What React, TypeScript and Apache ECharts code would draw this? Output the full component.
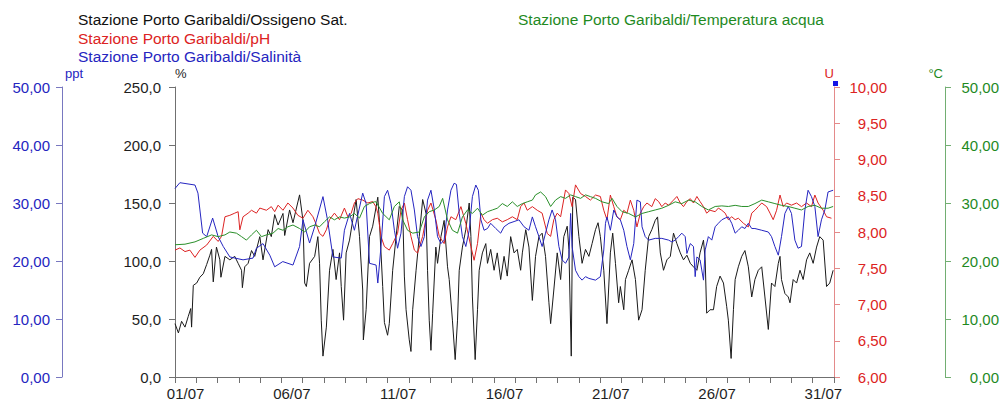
import React, { useEffect, useRef } from 'react';
import * as echarts from 'echarts';

// Tick labels of the day axis (one category per day of July)
const dayLabels = [
  '01/07', '02/07', '03/07', '04/07', '05/07', '06/07', '07/07', '08/07', '09/07', '10/07',
  '11/07', '12/07', '13/07', '14/07', '15/07', '16/07', '17/07', '18/07', '19/07', '20/07',
  '21/07', '22/07', '23/07', '24/07', '25/07', '26/07', '27/07', '28/07', '29/07', '30/07', '31/07',
];

const seriesNames = [
  'Stazione Porto Garibaldi/Ossigeno Sat.',
  'Stazione Porto Garibaldi/pH',
  'Stazione Porto Garibaldi/Salinità',
  'Stazione Porto Garibaldi/Temperatura acqua',
];

// [day since 01/07 00:00, value]
const ossigeno: number[][] = [
  [0, 46], [0.16, 38], [0.31, 48], [0.47, 43], [0.62, 52], [0.74, 59], [0.78, 43], [0.86, 79], [1.02, 81], [1.17, 86],
  [1.33, 89], [1.49, 97], [1.64, 105], [1.72, 110], [1.8, 82], [1.95, 112], [2.11, 101], [2.16, 86], [2.35, 104], [2.58, 101],
  [2.81, 104], [2.97, 98], [3.13, 92], [3.17, 77], [3.28, 95], [3.44, 98], [3.6, 109], [3.75, 104], [3.99, 121], [4.14, 101],
  [4.38, 127], [4.53, 121], [4.69, 140], [4.85, 131], [5.08, 141], [5.16, 122], [5.39, 144], [5.55, 133], [5.86, 157], [6.02, 135],
  [6.1, 81], [6.18, 78], [6.33, 98], [6.57, 104], [6.72, 121], [6.8, 98], [6.88, 49], [6.96, 18], [7.12, 43], [7.27, 92],
  [7.43, 110], [7.58, 84], [7.74, 107], [7.82, 78], [7.93, 49], [8.05, 107], [8.21, 118], [8.36, 135], [8.52, 153], [8.68, 121],
  [8.83, 75], [8.86, 32], [8.99, 58], [9.15, 121], [9.3, 130], [9.54, 155], [9.62, 133], [9.77, 78], [9.85, 47], [10.0, 36],
  [10.08, 46], [10.24, 92], [10.4, 121], [10.55, 147], [10.71, 144], [10.79, 87], [10.87, 58], [11.02, 32], [11.1, 22], [11.18, 58],
  [11.34, 92], [11.49, 121], [11.65, 153], [11.81, 141], [11.88, 92], [11.96, 49], [12.04, 23], [12.12, 55], [12.27, 112], [12.35, 98],
  [12.51, 121], [12.66, 135], [12.82, 95], [12.9, 84], [13.05, 49], [13.18, 15], [13.29, 49], [13.37, 92], [13.52, 112], [13.68, 127],
  [13.84, 150], [13.92, 121], [13.99, 69], [14.12, 15], [14.23, 58], [14.31, 92], [14.46, 107], [14.62, 115], [14.7, 98], [14.85, 110],
  [15.01, 92], [15.16, 107], [15.32, 84], [15.48, 104], [15.63, 87], [15.79, 121], [15.95, 107], [16.1, 110], [16.26, 92], [16.34, 107],
  [16.5, 127], [16.65, 112], [16.81, 66], [16.96, 104], [17.12, 121], [17.27, 124], [17.43, 104], [17.59, 64], [17.67, 46], [17.82, 75],
  [17.98, 107], [18.14, 84], [18.29, 121], [18.45, 130], [18.53, 110], [18.64, 18], [18.71, 155], [18.84, 153], [19.0, 121], [19.15, 98],
  [19.31, 110], [19.47, 104], [19.62, 115], [19.78, 127], [19.9, 133], [20.01, 121], [20.17, 92], [20.32, 46], [20.48, 107], [20.59, 124],
  [20.72, 98], [20.87, 64], [20.95, 78], [21.11, 58], [21.19, 84], [21.34, 92], [21.5, 101], [21.66, 84], [21.81, 49], [21.97, 58],
  [22.12, 92], [22.28, 121], [22.43, 127], [22.59, 135], [22.7, 138], [22.83, 107], [22.98, 92], [23.14, 101], [23.3, 104], [23.45, 124],
  [23.61, 115], [23.77, 107], [23.92, 101], [24.08, 105], [24.24, 98], [24.39, 95], [24.55, 92], [24.7, 107], [24.86, 118], [24.94, 101],
  [25.01, 55], [25.17, 58], [25.33, 58], [25.48, 78], [25.64, 87], [25.8, 81], [25.95, 61], [26.03, 49], [26.16, 16], [26.27, 58],
  [26.35, 84], [26.5, 95], [26.66, 104], [26.81, 109], [26.97, 95], [27.13, 69], [27.28, 84], [27.44, 92], [27.6, 95], [27.75, 69],
  [27.91, 41], [28.06, 81], [28.22, 78], [28.38, 98], [28.46, 104], [28.53, 84], [28.69, 72], [28.85, 69], [28.93, 64], [29.08, 84],
  [29.24, 81], [29.4, 92], [29.55, 84], [29.71, 101], [29.86, 107], [30.02, 98], [30.18, 112], [30.33, 121], [30.49, 118], [30.65, 78],
  [30.8, 81], [30.96, 92],
];

const ph: number[][] = [
  [0, 7.75], [0.23, 7.78], [0.47, 7.73], [0.7, 7.75], [0.94, 7.65], [1.17, 7.75], [1.49, 7.82], [1.8, 7.94], [2.03, 7.87], [2.19, 7.94],
  [2.35, 8.21], [2.58, 8.23], [2.81, 8.26], [2.97, 8.28], [3.05, 8.03], [3.2, 8.21], [3.44, 8.26], [3.6, 8.3], [3.83, 8.26], [3.99, 8.33],
  [4.3, 8.3], [4.53, 8.35], [4.69, 8.28], [4.85, 8.37], [5.08, 8.3], [5.31, 8.4], [5.55, 8.33], [5.78, 8.23], [6.02, 8.19], [6.25, 8.3],
  [6.49, 8.21], [6.65, 8.1], [6.8, 7.98], [6.96, 7.94], [7.12, 8.03], [7.27, 8.17], [7.5, 8.26], [7.74, 8.17], [7.97, 8.33], [8.13, 8.21],
  [8.29, 8.26], [8.44, 8.4], [8.6, 8.46], [8.83, 8.44], [9.07, 8.4], [9.3, 8.42], [9.45, 8.35], [9.54, 8.26], [9.69, 7.94], [9.85, 7.8],
  [10.08, 7.75], [10.24, 7.84], [10.47, 7.98], [10.63, 8.3], [10.79, 8.4], [10.94, 8.17], [11.1, 7.94], [11.26, 7.75], [11.41, 7.71], [11.65, 7.94],
  [11.88, 8.3], [12.04, 8.4], [12.27, 8.17], [12.43, 7.94], [12.66, 7.84], [12.82, 8.07], [12.98, 8.21], [13.21, 8.17], [13.45, 8.35], [13.68, 8.12],
  [13.92, 7.8], [14.07, 7.61], [14.23, 7.84], [14.39, 8.26], [14.54, 8.17], [14.7, 8.12], [14.93, 8.17], [15.16, 8.19], [15.4, 8.14], [15.63, 8.17],
  [15.87, 8.21], [16.1, 8.17], [16.26, 8.35], [16.42, 8.4], [16.57, 8.3], [16.81, 8.35], [17.04, 8.3], [17.27, 8.26], [17.51, 7.98], [17.67, 7.94],
  [17.82, 8.17], [17.98, 8.26], [18.14, 8.21], [18.37, 8.58], [18.53, 8.53], [18.68, 8.35], [18.84, 8.65], [19.08, 8.53], [19.31, 8.49], [19.54, 8.44],
  [19.78, 8.51], [20.01, 8.49], [20.17, 8.3], [20.32, 8.17], [20.48, 8.51], [20.64, 8.35], [20.79, 8.21], [20.95, 8.17], [21.11, 8.3], [21.26, 8.26],
  [21.42, 8.44], [21.58, 8.3], [21.73, 8.07], [21.89, 8.26], [22.05, 8.35], [22.2, 8.4], [22.43, 8.35], [22.59, 8.46], [22.75, 8.42], [22.9, 8.35],
  [23.06, 8.4], [23.22, 8.37], [23.45, 8.44], [23.61, 8.49], [23.77, 8.4], [23.92, 8.35], [24.08, 8.42], [24.24, 8.46], [24.39, 8.4], [24.55, 8.49],
  [24.7, 8.42], [24.86, 8.35], [25.01, 8.26], [25.17, 8.3], [25.41, 8.28], [25.56, 8.33], [25.72, 8.3], [25.88, 8.26], [26.03, 8.17], [26.19, 8.21],
  [26.35, 8.17], [26.5, 8.19], [26.74, 8.12], [26.97, 8.07], [27.13, 8.26], [27.28, 8.3], [27.44, 8.35], [27.6, 8.4], [27.83, 8.35], [27.99, 8.26],
  [28.14, 8.17], [28.3, 8.3], [28.46, 8.51], [28.61, 8.35], [28.77, 8.4], [29.0, 8.37], [29.24, 8.4], [29.47, 8.35], [29.71, 8.4], [29.94, 8.35],
  [30.1, 8.51], [30.25, 8.4], [30.49, 8.3], [30.65, 8.21], [30.88, 8.19],
];

const salinita: number[][] = [
  [0, 32.5], [0.23, 33.5], [0.94, 33.1], [1.08, 31.7], [1.3, 24.8], [1.49, 24.2], [1.77, 27.4], [2.03, 24.2], [2.27, 22.5], [2.58, 20.7],
  [3.2, 20.2], [3.67, 20.5], [3.83, 22.2], [4.14, 23.0], [4.46, 21.0], [4.69, 19.0], [5.07, 19.9], [5.55, 19.3], [5.86, 22.5], [6.02, 27.1],
  [6.33, 23.1], [6.57, 25.9], [6.96, 31.1], [7.18, 27.0], [7.43, 20.7], [7.82, 20.5], [7.97, 25.3], [8.21, 28.2], [8.44, 25.3], [8.83, 31.7],
  [8.99, 29.9], [9.15, 19.6], [9.46, 19.3], [9.54, 16.2], [9.69, 22.5], [9.85, 31.1], [10.0, 32.2], [10.16, 29.9], [10.32, 25.3], [10.47, 22.2],
  [10.63, 24.8], [10.79, 31.1], [10.94, 32.8], [11.1, 32.2], [11.26, 28.8], [11.41, 24.2], [11.57, 22.5], [11.73, 24.2], [11.88, 30.5], [12.04, 32.2],
  [12.2, 28.8], [12.35, 24.2], [12.51, 23.0], [12.66, 23.6], [12.82, 28.8], [12.98, 32.2], [13.13, 33.4], [13.24, 33.2], [13.37, 28.2], [13.52, 24.2],
  [13.68, 22.5], [13.84, 25.3], [13.99, 31.1], [14.15, 33.1], [14.27, 32.2], [14.39, 27.1], [14.54, 25.3], [14.7, 25.6], [14.85, 26.5], [15.09, 25.6],
  [15.32, 24.8], [15.48, 25.9], [15.71, 26.5], [15.95, 26.8], [16.18, 27.1], [16.42, 25.9], [16.65, 25.3], [16.81, 27.6], [16.96, 25.9], [17.12, 24.2],
  [17.27, 22.5], [17.43, 24.8], [17.59, 27.1], [17.74, 28.8], [17.9, 27.1], [18.06, 22.5], [18.21, 20.2], [18.37, 19.6], [18.53, 20.7], [18.61, 28.2],
  [18.68, 22.5], [18.84, 18.4], [19.0, 17.3], [19.15, 16.7], [19.31, 17.3], [19.47, 17.0], [19.78, 16.7], [20.01, 17.3], [20.17, 21.9], [20.25, 26.5],
  [20.32, 27.6], [20.48, 25.3], [20.64, 28.8], [20.79, 27.6], [20.95, 27.1], [21.11, 25.3], [21.26, 22.5], [21.42, 20.2], [21.58, 23.0], [21.73, 30.5],
  [21.89, 30.2], [21.97, 25.9], [22.12, 24.2], [22.28, 23.6], [22.59, 23.9], [22.9, 23.9], [23.22, 23.6], [23.37, 23.3], [23.53, 23.6], [23.69, 24.2],
  [23.84, 24.8], [24.0, 24.2], [24.08, 21.3], [24.24, 23.0], [24.39, 22.5], [24.47, 17.3], [24.55, 20.7], [24.7, 20.2], [24.86, 16.7], [24.94, 21.9],
  [25.09, 24.2], [25.25, 23.6], [25.41, 25.9], [25.56, 26.5], [25.72, 27.1], [25.88, 27.4], [26.03, 27.6], [26.19, 26.5], [26.35, 24.8], [26.5, 25.3],
  [26.66, 25.9], [26.81, 25.6], [26.97, 26.5], [27.13, 25.6], [27.28, 25.6], [27.6, 25.3], [27.91, 25.0], [28.06, 24.2], [28.22, 22.5], [28.38, 21.0],
  [28.53, 24.2], [28.69, 28.2], [28.85, 29.4], [29.0, 28.2], [29.16, 23.6], [29.31, 22.2], [29.47, 22.5], [29.63, 28.8], [29.78, 32.2], [29.94, 31.1],
  [30.1, 29.4], [30.25, 24.2], [30.41, 27.1], [30.57, 28.8], [30.72, 31.9], [30.96, 32.2],
];

const temperatura: number[][] = [
  [0, 22.8], [0.47, 22.9], [0.94, 23.3], [1.33, 23.9], [1.72, 24.5], [2.03, 24.2], [2.35, 24.5], [2.58, 25.0], [2.89, 24.8], [3.13, 24.2],
  [3.36, 23.6], [3.6, 24.5], [3.83, 25.3], [4.07, 24.2], [4.3, 24.5], [4.61, 24.8], [4.85, 25.6], [5.08, 25.3], [5.31, 25.9], [5.55, 26.2],
  [5.86, 25.6], [6.1, 25.0], [6.33, 25.9], [6.57, 26.2], [6.8, 25.9], [7.04, 26.8], [7.27, 27.6], [7.5, 27.1], [7.74, 27.6], [7.97, 27.4],
  [8.21, 27.6], [8.44, 28.2], [8.68, 27.4], [8.91, 29.4], [9.15, 29.9], [9.38, 30.2], [9.46, 30.2], [9.77, 28.2], [10.08, 27.1], [10.32, 29.4],
  [10.55, 30.2], [10.71, 27.1], [10.94, 25.3], [11.18, 24.8], [11.49, 25.0], [11.73, 27.6], [11.96, 28.5], [12.2, 28.8], [12.43, 29.4], [12.59, 30.8],
  [12.82, 27.1], [13.05, 25.3], [13.29, 24.8], [13.52, 27.6], [13.76, 28.8], [13.99, 28.2], [14.23, 29.1], [14.46, 27.9], [14.7, 28.5], [14.93, 28.8],
  [15.16, 29.1], [15.4, 29.9], [15.63, 29.4], [15.87, 30.2], [16.1, 29.4], [16.34, 29.9], [16.57, 30.2], [16.81, 30.5], [16.96, 31.4], [17.2, 31.9],
  [17.43, 31.1], [17.67, 29.4], [17.9, 30.5], [18.14, 31.1], [18.37, 30.8], [18.61, 31.4], [18.84, 31.1], [19.08, 30.8], [19.31, 31.4], [19.54, 31.1],
  [19.78, 30.8], [20.09, 30.2], [20.4, 29.9], [20.56, 30.8], [20.79, 29.4], [21.03, 28.5], [21.34, 28.2], [21.66, 27.6], [21.97, 28.2], [22.28, 28.5],
  [22.59, 28.8], [22.9, 29.1], [23.22, 29.6], [23.53, 30.2], [23.84, 29.9], [24.16, 30.5], [24.47, 30.2], [24.78, 29.4], [25.09, 28.8], [25.41, 29.4],
  [25.72, 29.5], [26.03, 29.4], [26.35, 29.6], [26.66, 29.4], [26.97, 29.4], [27.28, 29.9], [27.6, 30.5], [27.91, 30.2], [28.22, 29.9], [28.53, 29.6],
  [28.85, 29.4], [29.16, 29.1], [29.47, 28.8], [29.78, 29.4], [30.1, 29.6], [30.41, 29.1], [30.72, 29.1], [30.96, 29.4],
];

const FONT = '"Liberation Sans", Arial, sans-serif';
const C_BLACK = '#1e1e1e';
const C_RED = '#dc2323';
const C_BLUE = '#2525c0';
const C_GREEN = '#1f8a1f';

const fmt = (d: number) => (v: number) => v.toFixed(d).replace('.', ',');

function yAxisDef(opts: any) {
  const { name, min, max, interval, position, offset, textColor, lineColor, decimals, nameAlign, namePad, labelAlign, labelMargin } = opts;
  return {
    type: 'value',
    position,
    offset,
    min,
    max,
    interval,
    name,
    nameLocation: 'end',
    nameGap: 7,
    nameTextStyle: { color: textColor, fontSize: 13, fontFamily: FONT, align: nameAlign, padding: namePad },
    axisLine: { show: true, onZero: false, lineStyle: { color: lineColor, width: 1 } },
    axisTick: { show: true, length: 6, lineStyle: { color: lineColor, width: 1 } },
    axisLabel: {
      show: true,
      color: textColor,
      fontSize: 15,
      fontFamily: FONT,
      margin: labelMargin,
      align: labelAlign,
      formatter: fmt(decimals),
    },
    splitLine: { show: false },
  };
}

export default function App() {
  const ref = useRef<HTMLDivElement>(null);

  useEffect(() => {
    if (!ref.current) return;
    const chart = echarts.init(ref.current, undefined, { renderer: 'svg' });
    const line = (name: string, data: number[][], color: string, yAxisIndex: number) => ({
      name,
      type: 'line',
      xAxisIndex: 1,
      yAxisIndex,
      data,
      showSymbol: false,
      symbol: 'none',
      lineStyle: { color, width: 1 },
      itemStyle: { color },
      z: 2,
    });
    chart.setOption({
      animation: false,
      backgroundColor: '#ffffff',
      textStyle: { fontFamily: FONT },
      grid: { left: 175, right: 166, top: 87, bottom: 26, containLabel: false },
      xAxis: [
        {
          type: 'category',
          data: dayLabels,
          boundaryGap: true,
          axisLine: { show: true, lineStyle: { color: '#707070', width: 1 } },
          axisTick: { show: true, interval: 0, length: 6, lineStyle: { color: '#707070' } },
          axisLabel: { interval: 4, color: C_BLACK, fontSize: 15, fontFamily: FONT, margin: 9 },
          splitLine: { show: false },
        },
        { type: 'value', min: 0, max: 31, show: false },
      ],
      yAxis: [
        yAxisDef({ name: 'ppt', min: 0, max: 50, interval: 10, position: 'left', offset: 113, textColor: C_BLUE, lineColor: '#7878c0', decimals: 2, nameAlign: 'left', namePad: [0, 0, 0, 3], labelAlign: 'right', labelMargin: 12 }),
        yAxisDef({ name: '%', min: 0, max: 250, interval: 50, position: 'left', offset: 0, textColor: C_BLACK, lineColor: '#707070', decimals: 1, nameAlign: 'left', namePad: [0, 0, 0, 0], labelAlign: 'right', labelMargin: 14 }),
        yAxisDef({ name: 'U', min: 6, max: 10, interval: 0.5, position: 'right', offset: 0, textColor: C_RED, lineColor: '#e48a8a', decimals: 2, nameAlign: 'right', namePad: [0, 0, 0, 0], labelAlign: 'right', labelMargin: 53 }),
        yAxisDef({ name: '°C', min: 0, max: 50, interval: 10, position: 'right', offset: 111, textColor: C_GREEN, lineColor: '#72ae72', decimals: 2, nameAlign: 'right', namePad: [0, 2, 0, 0], labelAlign: 'right', labelMargin: 54 }),
      ],
      series: [
        line(seriesNames[0], ossigeno, '#1a1a1a', 1),
        line(seriesNames[1], ph, C_RED, 2),
        line(seriesNames[2], salinita, C_BLUE, 0),
        line(seriesNames[3], temperatura, '#2a8f2a', 3),
      ],
      graphic: [
        { type: 'text', left: 78, top: 11, style: { text: seriesNames[0], fill: '#111111', font: `15.5px ${FONT}` } },
        { type: 'text', left: 78, top: 30, style: { text: seriesNames[1], fill: C_RED, font: `15.5px ${FONT}` } },
        { type: 'text', left: 78, top: 48, style: { text: seriesNames[2], fill: C_BLUE, font: `15.5px ${FONT}` } },
        { type: 'text', left: 518, top: 11, style: { text: seriesNames[3], fill: C_GREEN, font: `15.5px ${FONT}` } },
        { type: 'rect', left: 833, top: 81, shape: { width: 5, height: 5 }, style: { fill: '#1414e6' }, z: 10 },
      ],
    });
    return () => chart.dispose();
  }, []);

  return (
    <div
      ref={ref}
      style={{ position: 'fixed', left: 0, top: 0, width: 1002, height: 403, background: '#fff' }}
    />
  );
}
